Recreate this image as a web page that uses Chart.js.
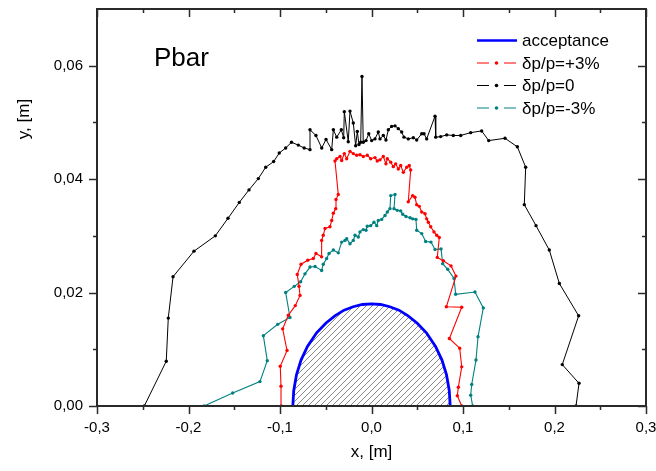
<!DOCTYPE html>
<html>
<head>
<meta charset="utf-8">
<script src="https://cdn.jsdelivr.net/npm/chart.js@4/dist/chart.umd.min.js"></script>
<style>
  html, body { margin: 0; padding: 0; background: #fff; }
  #c { display: block; }
</style>
</head>
<body>
<canvas id="c" width="656" height="471"></canvas>
<script>
// ---------- data ----------
const xTicks = [-0.3, -0.2, -0.1, 0.0, 0.1, 0.2, 0.3];
const xTickLabels = ['-0,3', '-0,2', '-0,1', '0,0', '0,1', '0,2', '0,3'];
const xMinorTicks = [-0.25, -0.15, -0.05, 0.05, 0.15, 0.25];
const yTicks = [0.00, 0.02, 0.04, 0.06];
const yTickLabels = ['0,00', '0,02', '0,04', '0,06'];
const yMinorTicks = [0.01, 0.03, 0.05];

const seriesNames = ['acceptance', 'δp/p=+3%', 'δp/p=0', 'δp/p=-3%'];

const accX = [-0.086, -0.085, -0.082, -0.077, -0.070, -0.060, -0.050, -0.040, -0.030, -0.020, -0.010, 0.000,
              0.010, 0.020, 0.030, 0.040, 0.050, 0.060, 0.070, 0.077, 0.082, 0.085, 0.086];
const accY = [0.0000, 0.0027, 0.0055, 0.0081, 0.0105, 0.0129, 0.0146, 0.0159, 0.0169, 0.0175, 0.0179, 0.0180,
              0.0179, 0.0175, 0.0169, 0.0159, 0.0146, 0.0129, 0.0105, 0.0081, 0.0055, 0.0027, 0.0000];

const plusX = [-0.0986, -0.0989, -0.0997, -0.0923, -0.0971, -0.0909, -0.0833, -0.0781, -0.0792, -0.0811, -0.0770,
  -0.0697, -0.0636, -0.0607, -0.0545, -0.0545, -0.0527, -0.0508, -0.0454, -0.0435, -0.0417, -0.0391, -0.0388, -0.0363,
  -0.0399, -0.0380, -0.0344, -0.0326, -0.0297, -0.0271, -0.0235, -0.0199, -0.0162, -0.0126, -0.0090, -0.0046, -0.0009,
  0.0038, 0.0063, 0.0093, 0.0129, 0.0158, 0.0173, 0.0210, 0.0238, 0.0264, 0.0293, 0.0319, 0.0348, 0.0385, 0.0413, 0.0428,
  0.0402, 0.0450, 0.0475, 0.0494, 0.0522, 0.0549, 0.0585, 0.0603, 0.0621, 0.0647, 0.0683, 0.0713, 0.0741,
  0.0719, 0.0785, 0.0869, 0.0923, 0.0818, 0.0986, 0.0851, 0.0964, 0.0986, 0.0949, 0.0938, 0.0986];
const plusY = [0.0000, 0.0035, 0.0070, 0.0098, 0.0136, 0.0160, 0.0177, 0.0195, 0.0211, 0.0232, 0.0250,
  0.0257, 0.0260, 0.0269, 0.0263, 0.0292, 0.0301, 0.0313, 0.0316, 0.0327, 0.0340, 0.0348, 0.0364, 0.0373,
  0.0432, 0.0436, 0.0440, 0.0433, 0.0445, 0.0436, 0.0449, 0.0445, 0.0442, 0.0443, 0.0440, 0.0442, 0.0436,
  0.0438, 0.0432, 0.0434, 0.0440, 0.0427, 0.0436, 0.0430, 0.0422, 0.0427, 0.0418, 0.0424, 0.0412, 0.0421, 0.0424, 0.0416,
  0.0360, 0.0371, 0.0368, 0.0355, 0.0352, 0.0342, 0.0339, 0.0330, 0.0324, 0.0316, 0.0307, 0.0301, 0.0297,
  0.0262, 0.0256, 0.0247, 0.0229, 0.0175, 0.0174, 0.0119, 0.0102, 0.0069, 0.0033, 0.0018, 0.0000];

const zeroX = [-0.2483, -0.2243, -0.2221, -0.2169, -0.1940, -0.1707, -0.1568, -0.1445, -0.1339, -0.1237, -0.1156,
  -0.1069, -0.1008, -0.0938, -0.0874, -0.0800, -0.0736, -0.0672, -0.0672, -0.0607, -0.0544, -0.0497, -0.0435, -0.0417,
  -0.0380, -0.0330, -0.0304, -0.0297, -0.0254, -0.0235, -0.0199, -0.0173, -0.0155, -0.0137, -0.0118, -0.0104, -0.0090,
  -0.0060, -0.0030, 0.0002, 0.0038, 0.0074, 0.0093, 0.0129, 0.0158, 0.0184, 0.0220, 0.0257, 0.0293, 0.0330, 0.0355,
  0.0402, 0.0457, 0.0494, 0.0549, 0.0574, 0.0603, 0.0694, 0.0702, 0.0756, 0.0822, 0.0894, 0.0975, 0.1084, 0.1204,
  0.1281, 0.1459, 0.1594, 0.1685, 0.1670, 0.1798, 0.1943, 0.2053, 0.2264, 0.2085, 0.2268, 0.2235];
const zeroY = [0.0000, 0.0079, 0.0155, 0.0228, 0.0273, 0.0300, 0.0331, 0.0359, 0.0381, 0.0401, 0.0421,
  0.0431, 0.0446, 0.0455, 0.0465, 0.0460, 0.0455, 0.0452, 0.0487, 0.0477, 0.0455, 0.0470, 0.0452, 0.0487,
  0.0474, 0.0487, 0.0473, 0.0519, 0.0466, 0.0520, 0.0499, 0.0459, 0.0484, 0.0461, 0.0465, 0.0581, 0.0465,
  0.0468, 0.0480, 0.0468, 0.0471, 0.0483, 0.0471, 0.0477, 0.0469, 0.0487, 0.0493, 0.0494, 0.0489, 0.0483, 0.0474,
  0.0471, 0.0473, 0.0469, 0.0480, 0.0480, 0.0471, 0.0511, 0.0474, 0.0475, 0.0478, 0.0477, 0.0477, 0.0482, 0.0485,
  0.0468, 0.0472, 0.0457, 0.0421, 0.0355, 0.0318, 0.0275, 0.0216, 0.0159, 0.0073, 0.0040, 0.0000];

const minusX = [-0.1830, -0.1517, -0.1219, -0.1139, -0.1182, -0.1025, -0.0891, -0.0938, -0.0844, -0.0774, -0.0727,
  -0.0672, -0.0617, -0.0545, -0.0527, -0.0490, -0.0464, -0.0417, -0.0363, -0.0326, -0.0290, -0.0271, -0.0235, -0.0199,
  -0.0180, -0.0144, -0.0126, -0.0090, -0.0060, -0.0046, -0.0009, 0.0027, 0.0057, 0.0074, 0.0111, 0.0148, 0.0173, 0.0202,
  0.0210, 0.0257, 0.0246, 0.0282, 0.0319, 0.0341, 0.0377, 0.0421, 0.0450, 0.0486, 0.0494, 0.0549, 0.0592, 0.0650,
  0.0694, 0.0760, 0.0778, 0.0833, 0.0902, 0.0920, 0.1131, 0.1222, 0.1164, 0.1142, 0.1095, 0.1084, 0.1106];
const minusY = [0.0000, 0.0023, 0.0043, 0.0080, 0.0124, 0.0144, 0.0156, 0.0200, 0.0211, 0.0219, 0.0233,
  0.0245, 0.0246, 0.0239, 0.0250, 0.0260, 0.0269, 0.0275, 0.0270, 0.0289, 0.0292, 0.0295, 0.0286, 0.0292,
  0.0301, 0.0298, 0.0307, 0.0311, 0.0310, 0.0317, 0.0318, 0.0324, 0.0318, 0.0327, 0.0329, 0.0336, 0.0342, 0.0348,
  0.0371, 0.0373, 0.0348, 0.0345, 0.0344, 0.0338, 0.0334, 0.0332, 0.0330, 0.0329, 0.0310, 0.0304, 0.0290, 0.0289,
  0.0276, 0.0277, 0.0251, 0.0241, 0.0225, 0.0197, 0.0201, 0.0173, 0.0122, 0.0081, 0.0038, 0.0019, 0.0000];

// ---------- helpers ----------
const pts = (xs, ys) => xs.map((x, i) => ({ x: x, y: ys[i] }));

function hatchPattern() {
  const c = document.createElement('canvas');
  c.width = 6; c.height = 6;
  const g = c.getContext('2d');
  g.strokeStyle = '#6a6a6a';
  g.lineWidth = 0.8;
  g.beginPath();
  g.moveTo(-1, 7); g.lineTo(7, -1);
  g.moveTo(-4, 4); g.lineTo(4, -4);
  g.moveTo(2, 10); g.lineTo(10, 2);
  g.stroke();
  return g.createPattern(c, 'repeat');
}

const FONT = "'Liberation Sans', Arial, sans-serif";
const AXIS_COLOR = '#2a2a2a';

const zeroPad = s => { s.paddingTop = 0; s.paddingBottom = 0; s.paddingLeft = 0; s.paddingRight = 0; };

const decor = {
  id: 'decor',
  afterDatasetsDraw(chart) {
    const ctx = chart.ctx;
    const a = chart.chartArea;
    const xs = chart.scales.x, ys = chart.scales.y;
    ctx.save();
    // frame
    ctx.strokeStyle = AXIS_COLOR;
    ctx.lineWidth = 2;
    ctx.strokeRect(a.left, a.top, a.right - a.left, a.bottom - a.top);
    // ticks
    ctx.lineWidth = 1.5;
    ctx.beginPath();
    const xt = (v, len) => {
      const p = Math.round(xs.getPixelForValue(v)) + 0.5;
      ctx.moveTo(p, a.bottom); ctx.lineTo(p, a.bottom + len);
      ctx.moveTo(p, a.top); ctx.lineTo(p, a.top + len);
    };
    const yt = (v, len) => {
      const p = Math.round(ys.getPixelForValue(v)) + 0.5;
      ctx.moveTo(a.left, p); ctx.lineTo(a.left - len, p);
      ctx.moveTo(a.right, p); ctx.lineTo(a.right - len, p);
    };
    xTicks.forEach(v => xt(v, 8));
    xMinorTicks.forEach(v => xt(v, 4));
    yTicks.forEach(v => yt(v, 8));
    yMinorTicks.forEach(v => yt(v, 4));
    ctx.stroke();

    // texts
    ctx.fillStyle = '#000';
    ctx.font = '26px ' + FONT;
    ctx.textAlign = 'left';
    ctx.textBaseline = 'alphabetic';
    ctx.fillText('Pbar', 154, 66);

    ctx.font = '17px ' + FONT;
    ctx.textAlign = 'center';
    ctx.textBaseline = 'middle';
    ctx.fillText('x, [m]', (a.left + a.right) / 2, 452);
    ctx.save();
    ctx.translate(24, 119);
    ctx.rotate(-Math.PI / 2);
    ctx.fillText('y, [m]', 0, 0);
    ctx.restore();

    // legend
    const rows = [40.5, 63, 85.5, 108];
    ctx.font = '17px ' + FONT;
    ctx.textAlign = 'left';
    ctx.textBaseline = 'middle';
    chart.data.datasets.forEach((ds, i) => {
      const y = rows[i];
      ctx.strokeStyle = ds.borderColor;
      if (i === 0) {
        ctx.lineWidth = 2.5;
        ctx.beginPath(); ctx.moveTo(477, y); ctx.lineTo(517, y); ctx.stroke();
      } else {
        ctx.lineWidth = 1.2;
        ctx.beginPath();
        ctx.moveTo(477, y); ctx.lineTo(489, y);
        ctx.moveTo(504, y); ctx.lineTo(516, y);
        ctx.stroke();
        ctx.fillStyle = ds.borderColor;
        ctx.beginPath(); ctx.arc(496.5, y, 1.8, 0, Math.PI * 2); ctx.fill();
      }
      ctx.fillStyle = '#000';
      ctx.fillText(ds.label, 522, y + 1);
    });
    ctx.restore();
  }
};

new Chart(document.getElementById('c'), {
  type: 'scatter',
  data: {
    datasets: [
      {
        label: seriesNames[0], data: pts(accX, accY), showLine: true,
        borderColor: '#0000ff', borderWidth: 2.8, pointRadius: 0,
        fill: 'origin', backgroundColor: hatchPattern(), tension: 0, order: 4
      },
      {
        label: seriesNames[1], data: pts(plusX, plusY), showLine: true,
        borderColor: '#ff0000', backgroundColor: '#ff0000', borderWidth: 1.1,
        pointRadius: 1.7, pointBorderWidth: 0, fill: false, order: 2
      },
      {
        label: seriesNames[2], data: pts(zeroX, zeroY), showLine: true,
        borderColor: '#000000', backgroundColor: '#000000', borderWidth: 1,
        pointRadius: 1.7, pointBorderWidth: 0, fill: false, order: 1
      },
      {
        label: seriesNames[3], data: pts(minusX, minusY), showLine: true,
        borderColor: '#008080', backgroundColor: '#008080', borderWidth: 1.1,
        pointRadius: 1.7, pointBorderWidth: 0, fill: false, order: 3
      }
    ]
  },
  options: {
    responsive: false,
    animation: false,
    devicePixelRatio: 1,
    layout: { padding: { left: 0, right: 10, top: 9, bottom: 0 } },
    plugins: { legend: { display: false }, tooltip: { enabled: false } },
    scales: {
      x: {
        type: 'linear', position: 'bottom', min: -0.3, max: 0.3,
        grid: { display: false, drawTicks: false },
        border: { display: false },
        afterBuildTicks: s => { s.ticks = xTicks.map(v => ({ value: v })); },
        afterFit: s => { s.height = 65; zeroPad(s); },
        ticks: {
          autoSkip: false, maxRotation: 0, padding: 13, color: '#000',
          font: { size: 15, family: FONT },
          callback: (v, i) => xTickLabels[i]
        }
      },
      y: {
        type: 'linear', position: 'left', min: 0, max: 0.07,
        grid: { display: false, drawTicks: false },
        border: { display: false },
        afterBuildTicks: s => { s.ticks = yTicks.map(v => ({ value: v })); },
        afterFit: s => { s.width = 97; zeroPad(s); },
        ticks: {
          autoSkip: false, padding: 14, color: '#000',
          font: { size: 15, family: FONT },
          callback: (v, i) => yTickLabels[i]
        }
      }
    }
  },
  plugins: [decor]
});
</script>
</body>
</html>
